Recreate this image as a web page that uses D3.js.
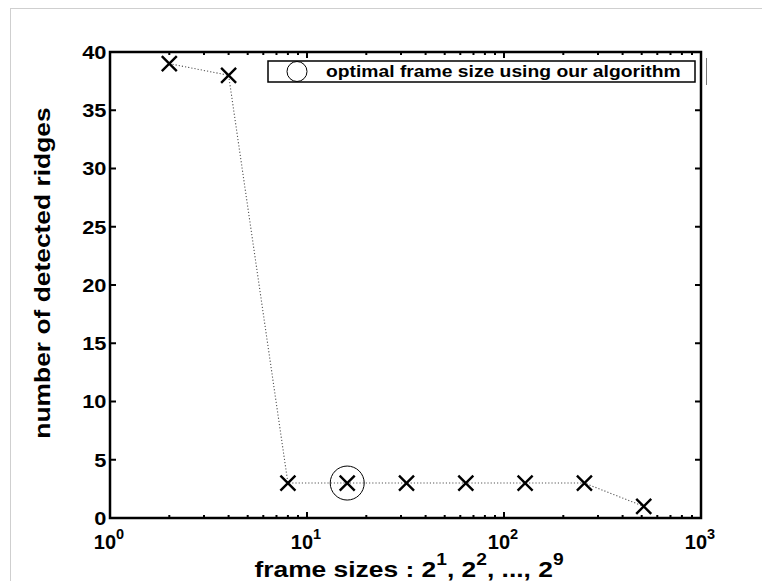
<!DOCTYPE html>
<html>
<head>
<meta charset="utf-8">
<script src="https://cdn.jsdelivr.net/npm/d3@7"></script>
<style>
  html, body { margin: 0; padding: 0; background: #fff; }
  svg { display: block; }
  text { font-family: "Liberation Sans", Arial, Helvetica, sans-serif; font-weight: bold; fill: #000; }
</style>
</head>
<body>
<svg id="chart" width="762" height="581"></svg>
<script>
// Frame sizes 2^1 .. 2^9 and the number of ridges detected at each size
const exponents = [1, 2, 3, 4, 5, 6, 7, 8, 9];
const frameSizes = exponents.map(e => Math.pow(2, e));
const ridgeCounts = [39, 38, 3, 3, 3, 3, 3, 3, 1];
const optimalFrameSize = 16;

const yTickValues = [0, 5, 10, 15, 20, 25, 30, 35, 40];
const xDecades = [0, 1, 2, 3];

const legendLabel = "optimal frame size using our algorithm";
const yAxisTitle = "number of detected ridges";

const svg = d3.select("#chart");
const W = 762, H = 581;

// wide-set text: a group placed at (x, y) and stretched horizontally by sx
function wideText(parent, px, py, sx, anchor, size, rotate) {
  const g = parent.append("g")
    .attr("transform", `translate(${px},${py})${rotate ? ` rotate(${rotate})` : ""} scale(${sx},1)`);
  return g.append("text").attr("x", 0).attr("y", 0)
    .attr("text-anchor", anchor).attr("font-size", size);
}

// outer figure frame (only top and left edges are in view)
svg.append("line").attr("x1", 10.5).attr("x2", 10.5).attr("y1", 8).attr("y2", H)
  .attr("stroke", "#cfcfcf").attr("stroke-width", 1);
svg.append("line").attr("x1", 10).attr("x2", W).attr("y1", 8.5).attr("y2", 8.5)
  .attr("stroke", "#cfcfcf").attr("stroke-width", 1);

const plot = { left: 110, right: 701, top: 52, bottom: 518 };

const x = d3.scaleLog().domain([1, 1000]).range([plot.left, plot.right]);
const y = d3.scaleLinear().domain([0, 40]).range([plot.bottom, plot.top]);

const axisStroke = 2.5;

// minor / major log ticks on top and bottom edges
const xMinor = [];
for (let d = 0; d < 3; d++) {
  for (let m = 2; m <= 9; m++) xMinor.push(m * Math.pow(10, d));
}
const xMajor = xDecades.map(d => Math.pow(10, d));

const tickG = svg.append("g").attr("stroke", "#000").attr("stroke-width", 2);
xMinor.forEach(v => {
  const px = x(v);
  tickG.append("line").attr("x1", px).attr("x2", px).attr("y1", plot.bottom).attr("y2", plot.bottom - 3);
  tickG.append("line").attr("x1", px).attr("x2", px).attr("y1", plot.top).attr("y2", plot.top + 3);
});
xMajor.forEach(v => {
  const px = x(v);
  tickG.append("line").attr("x1", px).attr("x2", px).attr("y1", plot.bottom).attr("y2", plot.bottom - 6);
  tickG.append("line").attr("x1", px).attr("x2", px).attr("y1", plot.top).attr("y2", plot.top + 6);
});
yTickValues.forEach(v => {
  const py = y(v);
  tickG.append("line").attr("x1", plot.left).attr("x2", plot.left + 6).attr("y1", py).attr("y2", py);
  tickG.append("line").attr("x1", plot.right).attr("x2", plot.right - 6).attr("y1", py).attr("y2", py);
});

// axes box
svg.append("rect")
  .attr("x", plot.left).attr("y", plot.top)
  .attr("width", plot.right - plot.left).attr("height", plot.bottom - plot.top)
  .attr("fill", "none").attr("stroke", "#000").attr("stroke-width", axisStroke);

// y tick labels
const yLab = svg.append("g");
yTickValues.forEach(v => {
  wideText(yLab, plot.left - 3.5, y(v) + 6.8, 1.18, "end", 18.5).text(v);
});

// x tick labels: 10^k
const xLab = svg.append("g");
xDecades.forEach(d => {
  const t = wideText(xLab, x(Math.pow(10, d)) - 1, 549, 1.0, "middle", 20);
  t.append("tspan").text("10");
  t.append("tspan").attr("dy", -10).attr("font-size", 14.5).text(d);
});

// axis titles
const xt = wideText(svg, 409, 577, 1.2, "middle", 22);
xt.append("tspan").text("frame sizes : 2");
xt.append("tspan").attr("dy", -12).attr("font-size", 16).text("1");
xt.append("tspan").attr("dy", 12).text(", 2");
xt.append("tspan").attr("dy", -12).attr("font-size", 16).text("2");
xt.append("tspan").attr("dy", 12).text(", ..., 2");
xt.append("tspan").attr("dy", -12).attr("font-size", 16).text("9");

wideText(svg, 50, 273, 1.2, "middle", 22, -90).text(yAxisTitle);

// dotted connecting line
const line = d3.line().x((d, i) => x(frameSizes[i])).y(d => y(d));
svg.append("path").datum(ridgeCounts)
  .attr("d", line).attr("fill", "none")
  .attr("stroke", "#555").attr("stroke-width", 1.1)
  .attr("stroke-dasharray", "1.2,2");

// cross markers
const s = 7.5;
const markers = svg.append("g").attr("stroke", "#000").attr("stroke-width", 2.4);
ridgeCounts.forEach((v, i) => {
  const cx = x(frameSizes[i]), cy = y(v);
  markers.append("path").attr("d", `M${cx - s},${cy - s}L${cx + s},${cy + s}M${cx - s},${cy + s}L${cx + s},${cy - s}`);
});

// optimal frame size highlight
const optIdx = frameSizes.indexOf(optimalFrameSize);
svg.append("circle")
  .attr("cx", x(optimalFrameSize)).attr("cy", y(ridgeCounts[optIdx]))
  .attr("r", 17).attr("fill", "none").attr("stroke", "#000").attr("stroke-width", 1);

// legend
const lg = svg.append("g");
lg.append("rect").attr("x", 268).attr("y", 61).attr("width", 427).attr("height", 21)
  .attr("fill", "#fff").attr("stroke", "#000").attr("stroke-width", 1.5);
lg.append("circle").attr("cx", 297).attr("cy", 71.5).attr("r", 10)
  .attr("fill", "none").attr("stroke", "#000").attr("stroke-width", 1);
wideText(lg, 326, 77, 1.17, "start", 16.5).text(legendLabel);
lg.append("line").attr("x1", 706.5).attr("x2", 706.5).attr("y1", 58).attr("y2", 85)
  .attr("stroke", "#777").attr("stroke-width", 1);
</script>
</body>
</html>
